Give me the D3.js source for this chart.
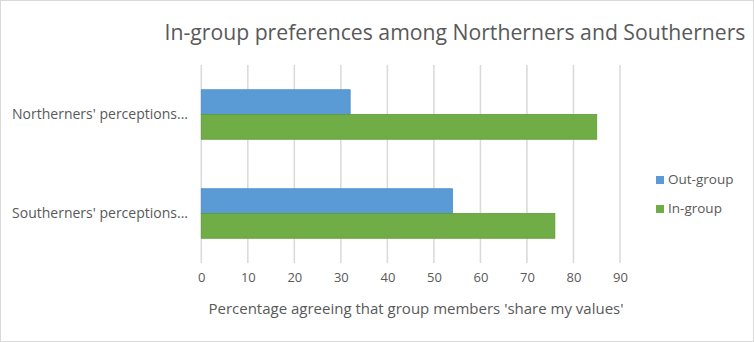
<!DOCTYPE html>
<html><head><meta charset="utf-8">
<script src="https://cdn.jsdelivr.net/npm/d3@7"></script>
<style>body{margin:0;background:#fff}svg{display:block}text{font-family:"Open Sans",sans-serif;fill:#595959}</style>
</head><body>
<script>
const categories = ["Northerners' perceptions...", "Southerners' perceptions..."];
const seriesNames = ["Out-group", "In-group"];
const outGroup = [32, 54];
const inGroup = [85, 76];
const xTicks = [0,10,20,30,40,50,60,70,80,90];
const colors = ["#5B9BD5", "#70AD47"];
const strokes = ["#4A8CCB", "#5E9C34"];

const W=754,H=342;
const svg=d3.select("body").append("svg").attr("width",W).attr("height",H);
svg.append("rect").attr("x",0.5).attr("y",0.5).attr("width",W-1).attr("height",H-1).attr("fill","#fff").attr("stroke","#d9d9d9");

const x=d3.scaleLinear().domain([0,90]).range([201.3,620]);
const y=d3.scaleBand().domain(categories).range([65,263]).paddingInner(0.5).paddingOuter(0.25);
const ys=d3.scaleBand().domain(seriesNames).range([0,y.bandwidth()]);

svg.append("g").selectAll("line").data(xTicks).join("line")
 .attr("x1",d=>x(d)).attr("x2",d=>x(d)).attr("y1",65).attr("y2",263)
 .attr("stroke","#d9d9d9").attr("stroke-width",1.5);

const data=[outGroup,inGroup];
seriesNames.forEach((s,i)=>{
  svg.append("g").selectAll("rect").data(categories).join("rect")
   .attr("x",x(0)).attr("y",(c)=>y(c)+ys(s))
   .attr("width",(c,j)=>x(data[i][j])-x(0)).attr("height",ys.bandwidth())
   .attr("fill",colors[i]).attr("stroke",strokes[i]).attr("stroke-width",0.8);
});

const xa=svg.append("g").attr("transform","translate(0,263)").call(d3.axisBottom(x).tickValues(xTicks).tickSize(0).tickPadding(10));
xa.select(".domain").remove();
xa.selectAll("text").style("font-family","'Open Sans',sans-serif").style("font-size","13px").attr("fill","#595959");

const ya=svg.append("g").attr("transform","translate(188,0)").call(d3.axisLeft(y).tickSize(0).tickPadding(0));
ya.select(".domain").remove();
ya.selectAll("text").style("font-family","'Open Sans',sans-serif").style("font-size","14px").attr("fill","#595959");

svg.append("text").attr("x",455).attr("y",40).attr("text-anchor","middle").style("font-size","21.2px").text("In-group preferences among Northerners and Southerners");
svg.append("text").attr("x",416).attr("y",314).attr("text-anchor","middle").style("font-size","15px").text("Percentage agreeing that group members 'share my values'");

const lg=svg.append("g");
seriesNames.forEach((s,i)=>{
  lg.append("rect").attr("x",656).attr("y",176+i*29).attr("width",8).attr("height",8).attr("fill",colors[i]);
  lg.append("text").attr("x",668).attr("y",184+i*29).style("font-size","13.5px").text(s);
});
</script>
</body></html>
